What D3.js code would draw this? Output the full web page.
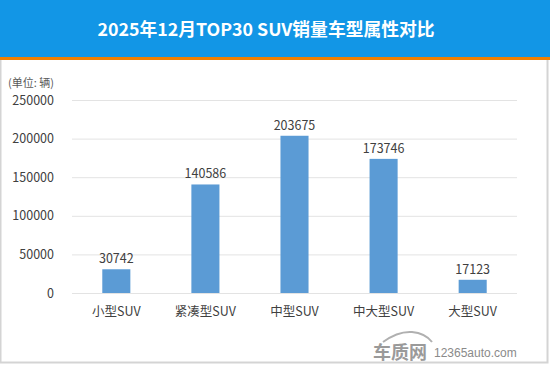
<!DOCTYPE html>
<html lang="zh">
<head>
<meta charset="UTF-8">
<title>2025年12月TOP30 SUV销量车型属性对比</title>
<script src="https://cdn.jsdelivr.net/npm/d3@7/dist/d3.min.js"></script>
<style>
  body { margin: 0; background: #fff; }
  svg { display: block; font-family: "Noto Sans CJK SC", "Microsoft YaHei", sans-serif; }
</style>
</head>
<body>
<script>
// chart data
const categories = ["小型SUV", "紧凑型SUV", "中型SUV", "中大型SUV", "大型SUV"];
const sales = [30742, 140586, 203675, 173746, 17123];
const yTicks = [0, 50000, 100000, 150000, 200000, 250000];

const width = 550, height = 365;
const svg = d3.select("body").append("svg")
    .attr("width", width)
    .attr("height", height);

// frame
svg.append("rect")
    .attr("x", 0.5).attr("y", 0.5)
    .attr("width", width - 3).attr("height", height - 3)
    .attr("fill", "#fff").attr("stroke", "#d4d4d4").attr("stroke-width", 2);

// header
svg.append("rect").attr("x", 0).attr("y", 0).attr("width", width).attr("height", 57).attr("fill", "#1296e6");
svg.append("rect").attr("x", 0).attr("y", 57).attr("width", width).attr("height", 3).attr("fill", "#f07f00");
svg.append("text")
    .attr("x", 266).attr("y", 36)
    .attr("text-anchor", "middle")
    .attr("fill", "#fff")
    .attr("font-size", 17.8).attr("font-weight", "bold")
    .text("2025年12月TOP30 SUV销量车型属性对比");

// scales
const x = d3.scaleBand().domain(categories).range([72, 517]).paddingInner(0.685).paddingOuter(0.34);
const y = d3.scaleLinear().domain([0, 250000]).range([293, 100]);

// grid
svg.append("g").selectAll("line").data(yTicks).join("line")
    .attr("x1", 72).attr("x2", 517)
    .attr("y1", d => y(d) + 0.5).attr("y2", d => y(d) + 0.5)
    .attr("stroke", "#e3e3e3");

// y axis labels
svg.append("g").selectAll("text").data(yTicks).join("text")
    .attr("x", 54).attr("y", d => y(d) + 4.5)
    .attr("text-anchor", "end")
    .attr("font-size", 12.5).attr("fill", "#404040")
    .text(d => d);

svg.append("text")
    .attr("x", 8).attr("y", 87)
    .attr("font-size", 11).attr("fill", "#595959")
    .text("(单位: 辆)");

// bars
svg.append("g").selectAll("rect").data(sales).join("rect")
    .attr("x", (d, i) => x(categories[i]))
    .attr("y", d => y(d))
    .attr("width", x.bandwidth())
    .attr("height", d => y(0) - y(d))
    .attr("fill", "#5b9bd5");

// value labels
svg.append("g").selectAll("text").data(sales).join("text")
    .attr("x", (d, i) => x(categories[i]) + x.bandwidth() / 2)
    .attr("y", d => y(d) - 6)
    .attr("text-anchor", "middle")
    .attr("font-size", 12.5).attr("fill", "#404040")
    .text(d => d);

// category labels
svg.append("g").selectAll("text").data(categories).join("text")
    .attr("x", d => x(d) + x.bandwidth() / 2)
    .attr("y", 316)
    .attr("text-anchor", "middle")
    .attr("font-size", 12.5).attr("fill", "#404040")
    .text(d => d);

// watermark
svg.append("text")
    .attr("x", 373).attr("y", 359)
    .attr("font-size", 18).attr("font-weight", "bold").attr("fill", "#9a9a9a")
    .text("车质网");
svg.append("path")
    .attr("d", "M383,342 Q398,331 412,332 Q425,333 432,342")
    .attr("fill", "none").attr("stroke", "#b0b0b0").attr("stroke-width", 2);
svg.append("text")
    .attr("x", 434).attr("y", 357)
    .attr("font-size", 12).attr("fill", "#8a8a8a")
    .attr("font-family", "Arial, 'Liberation Sans', sans-serif")
    .text("12365auto.com");
</script>
</body>
</html>
